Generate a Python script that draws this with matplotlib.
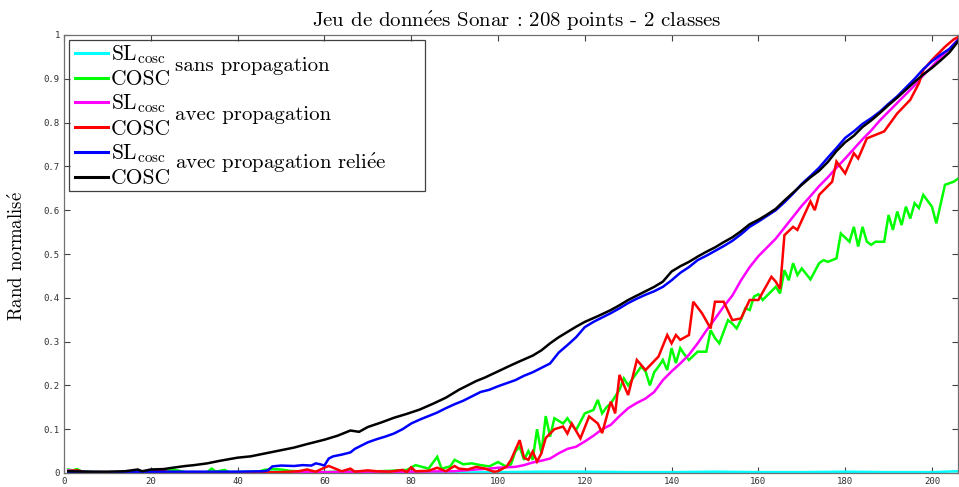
import matplotlib
matplotlib.use("Agg")
import matplotlib.pyplot as plt
from matplotlib.patches import Rectangle

plt.rcParams["mathtext.fontset"] = "cm"
SERIF = ["cmr10", "DejaVu Serif"]
E_ACUTE = r"$\acute{\mathrm{e}}$"

# --- data -------------------------------------------------------------
# SL_cosc sans propagation (cyan)
cyan_x = [1, 10, 20, 30, 40, 50, 60, 70, 80, 90, 100, 110, 120, 130, 140,
          150, 160, 170, 180, 190, 200, 206]
cyan_y = [0.003, 0.001, 0.002, 0.001, 0.002, 0.003, 0.001, 0.002, 0.002, 0.001,
          0.002, 0.003, 0.003, 0.002, 0.002, 0.003, 0.002, 0.002, 0.003, 0.002,
          0.002, 0.004]

# COSC sans propagation (green)
green_x = [1, 2, 3, 4, 6, 10, 15, 20, 23, 25, 28, 33, 34, 35, 37, 38, 45, 46,
           48, 50, 52, 55, 60, 65, 70, 75, 79, 81, 84, 86, 87, 89, 90, 92, 94,
           96, 98, 100, 102, 103, 104, 105, 106, 107, 108, 109, 110, 111, 112,
           113, 115, 116, 117, 118, 120, 122, 123, 124, 125, 126, 128, 129, 130,
           131, 133, 134, 135, 136, 137, 138, 139, 140, 141, 142, 143, 144, 146,
           148, 149, 150, 151, 153, 154, 155, 156, 157, 158, 159, 160, 161, 162,
           164, 165, 166, 167, 168, 169, 170, 172, 174, 175, 176, 178, 179, 181,
           182, 183, 184, 185, 186, 187, 189, 190, 191, 192, 193, 194, 195, 196,
           197, 198, 200, 201, 203, 205, 206]
green_y = [0.008, 0.006, 0.009, 0.004, 0.002, 0.001, 0.002, 0.003, 0.006, 0.008,
           0.002, 0.002, 0.010, 0.003, 0.007, 0.002, 0.003, 0.007, 0.009, 0.008,
           0.005, 0.003, 0.002, 0.004, 0.003, 0.005, 0.007, 0.018, 0.010, 0.037,
           0.010, 0.015, 0.030, 0.020, 0.022, 0.018, 0.015, 0.025, 0.014, 0.020,
           0.049, 0.060, 0.030, 0.050, 0.030, 0.100, 0.045, 0.130, 0.083, 0.125,
           0.113, 0.125, 0.110, 0.098, 0.136, 0.144, 0.167, 0.136, 0.150, 0.159,
           0.190, 0.216, 0.200, 0.215, 0.243, 0.232, 0.200, 0.230, 0.243, 0.258,
           0.235, 0.285, 0.251, 0.285, 0.270, 0.258, 0.277, 0.277, 0.326, 0.308,
           0.296, 0.349, 0.341, 0.330, 0.350, 0.376, 0.372, 0.403, 0.408, 0.395,
           0.405, 0.425, 0.410, 0.463, 0.440, 0.479, 0.452, 0.467, 0.442, 0.479,
           0.486, 0.482, 0.490, 0.547, 0.528, 0.562, 0.517, 0.562, 0.528, 0.521,
           0.528, 0.528, 0.589, 0.555, 0.597, 0.566, 0.608, 0.581, 0.616, 0.605,
           0.635, 0.608, 0.570, 0.658, 0.665, 0.672]

# SL_cosc avec propagation (magenta)
magenta_x = [1, 3, 5, 10, 20, 40, 60, 70, 80, 90, 95, 98, 100, 102, 104, 106,
             108, 110, 112, 114, 116, 118, 120, 122, 124, 126, 128, 130, 132,
             134, 136, 138, 140, 142, 144, 146, 148, 150, 152, 154, 156, 158,
             160, 162, 164, 166, 168, 170, 172, 174, 176, 178, 180, 182, 184,
             186, 188, 190, 192, 194, 196, 198, 200, 202, 204, 206]
magenta_y = [0.006, 0.004, 0.002, 0.001, 0.001, 0.001, 0.002, 0.003, 0.003,
             0.004, 0.008, 0.010, 0.012, 0.013, 0.014, 0.018, 0.024, 0.028,
             0.033, 0.045, 0.055, 0.060, 0.072, 0.085, 0.100, 0.110, 0.130,
             0.148, 0.160, 0.170, 0.185, 0.212, 0.232, 0.250, 0.270, 0.296,
             0.325, 0.352, 0.380, 0.405, 0.440, 0.470, 0.495, 0.515, 0.535,
             0.560, 0.585, 0.610, 0.632, 0.655, 0.675, 0.697, 0.718, 0.740,
             0.762, 0.782, 0.805, 0.825, 0.845, 0.865, 0.885, 0.908, 0.928,
             0.950, 0.968, 0.990]

# COSC avec propagation (red)
red_x = [1, 3, 5, 10, 20, 22, 24, 30, 40, 50, 54, 56, 58, 60, 61, 63, 64, 66,
         67, 70, 72, 75, 78, 79, 80, 81, 84, 86, 88, 90, 91, 93, 95, 97, 99,
         100, 102, 103, 105, 106, 107, 108, 109, 110, 111, 113, 115, 116, 117,
         119, 121, 123, 124, 126, 127, 128, 130, 132, 134, 137, 139, 140, 141,
         142, 144, 145, 147, 149, 150, 152, 154, 156, 158, 160, 163, 164, 165,
         166, 168, 169, 172, 173, 174, 177, 178, 180, 182, 183, 185, 189, 192,
         195, 197, 198, 200, 203, 205, 206]
red_y = [0.004, 0.006, 0.002, 0.001, 0.002, 0.006, 0.002, 0.001, 0.001, 0.002,
         0.004, 0.008, 0.003, 0.012, 0.016, 0.008, 0.004, 0.010, 0.003, 0.006,
         0.004, 0.003, 0.007, 0.002, 0.013, 0.004, 0.005, 0.012, 0.004, 0.016,
         0.010, 0.008, 0.014, 0.010, 0.003, 0.004, 0.015, 0.030, 0.075, 0.035,
         0.030, 0.049, 0.026, 0.045, 0.080, 0.100, 0.106, 0.090, 0.113, 0.079,
         0.129, 0.113, 0.091, 0.163, 0.136, 0.224, 0.178, 0.258, 0.235, 0.266,
         0.315, 0.296, 0.315, 0.304, 0.315, 0.391, 0.365, 0.330, 0.391, 0.391,
         0.349, 0.353, 0.395, 0.395, 0.448, 0.437, 0.420, 0.543, 0.562, 0.555,
         0.620, 0.600, 0.635, 0.665, 0.711, 0.684, 0.730, 0.718, 0.764, 0.780,
         0.821, 0.852, 0.890, 0.920, 0.943, 0.973, 0.990, 0.995]

# SL_cosc avec propagation reliée (blue)
blue_x = [1, 10, 20, 30, 40, 46, 47, 48, 50, 53, 55, 57, 58, 59, 60, 61, 62,
          64, 66, 67, 68, 70, 72, 74, 76, 78, 80, 82, 84, 86, 88, 90, 92, 94,
          96, 98, 100, 102, 104, 106, 108, 110, 112, 114, 116, 118, 120, 122,
          124, 126, 128, 130, 132, 134, 136, 138, 140, 142, 144, 146, 148, 150,
          152, 154, 156, 158, 160, 162, 164, 166, 168, 170, 172, 174, 176, 178,
          180, 182, 184, 186, 188, 190, 192, 194, 196, 198, 200, 202, 204, 206]
blue_y = [0.003, 0.002, 0.003, 0.003, 0.003, 0.004, 0.006, 0.015, 0.017, 0.016,
          0.018, 0.017, 0.022, 0.020, 0.017, 0.033, 0.038, 0.042, 0.047, 0.055,
          0.060, 0.070, 0.077, 0.083, 0.090, 0.100, 0.113, 0.122, 0.130, 0.138,
          0.148, 0.157, 0.165, 0.175, 0.185, 0.190, 0.198, 0.205, 0.212, 0.222,
          0.230, 0.240, 0.250, 0.275, 0.292, 0.310, 0.333, 0.345, 0.355, 0.365,
          0.376, 0.388, 0.398, 0.407, 0.415, 0.425, 0.440, 0.457, 0.470, 0.486,
          0.496, 0.507, 0.518, 0.530, 0.545, 0.562, 0.574, 0.587, 0.600, 0.618,
          0.638, 0.660, 0.678, 0.697, 0.720, 0.742, 0.765, 0.780, 0.797, 0.810,
          0.825, 0.843, 0.860, 0.880, 0.900, 0.922, 0.940, 0.955, 0.968, 0.988]

# COSC avec propagation reliée (black)
black_x = [1, 5, 10, 14, 17, 18, 20, 23, 25, 28, 30, 33, 36, 40, 43, 46, 50,
           53, 56, 60, 63, 66, 68, 70, 73, 76, 79, 82, 85, 88, 91, 93, 95, 97,
           100, 103, 105, 108, 110, 112, 114, 116, 118, 120, 123, 126, 128, 130,
           132, 134, 136, 138, 140, 142, 144, 146, 148, 150, 152, 154, 156, 158,
           160, 162, 164, 166, 168, 170, 172, 174, 176, 178, 180, 182, 184, 186,
           188, 190, 192, 194, 196, 198, 200, 202, 204, 206]
black_y = [0.004, 0.003, 0.003, 0.004, 0.008, 0.004, 0.008, 0.009, 0.012, 0.016,
           0.018, 0.022, 0.028, 0.035, 0.038, 0.044, 0.052, 0.058, 0.066, 0.076,
           0.085, 0.097, 0.094, 0.105, 0.115, 0.126, 0.135, 0.145, 0.158, 0.172,
           0.190, 0.200, 0.210, 0.218, 0.232, 0.246, 0.255, 0.268, 0.280, 0.296,
           0.310, 0.322, 0.334, 0.345, 0.358, 0.372, 0.383, 0.395, 0.405, 0.415,
           0.425, 0.437, 0.460, 0.472, 0.482, 0.494, 0.505, 0.515, 0.527, 0.538,
           0.552, 0.568, 0.578, 0.590, 0.603, 0.622, 0.640, 0.658, 0.675, 0.690,
           0.710, 0.735, 0.755, 0.770, 0.790, 0.805, 0.822, 0.840, 0.857, 0.875,
           0.893, 0.910, 0.925, 0.942, 0.960, 0.985]

x_ticks = [0, 20, 40, 60, 80, 100, 120, 140, 160, 180, 200]
y_ticks = [0, 0.1, 0.2, 0.3, 0.4, 0.5, 0.6, 0.7, 0.8, 0.9, 1]
y_tick_labels = ["0", "0.1", "0.2", "0.3", "0.4", "0.5", "0.6", "0.7", "0.8",
                 "0.9", "1"]

sl_label = r"SL$_{\mathrm{cosc}}$"
cosc_label = "COSC"
groups = ["sans propagation", "avec propagation",
          "avec propagation reli" + E_ACUTE + "e"]
title = "Jeu de donn" + E_ACUTE + "es Sonar : 208 points - 2 classes"
ylabel = "Rand normalis" + E_ACUTE

# --- figure -----------------------------------------------------------
W, H = 959, 487
fig = plt.figure(figsize=(W / 100, H / 100), dpi=100)
ax = fig.add_axes([64 / W, (H - 473) / H, (958 - 64) / W, (473 - 35) / H])

lw = 1.8
series = [
    (cyan_x, cyan_y, "#00ffff", sl_label),
    (green_x, green_y, "#00ff00", cosc_label),
    (magenta_x, magenta_y, "#ff00ff", sl_label),
    (red_x, red_y, "#ff0000", cosc_label),
    (blue_x, blue_y, "#0000ff", sl_label),
    (black_x, black_y, "#000000", cosc_label),
]
handles = []
for xs, ys, col, lab in series:
    (ln,) = ax.plot(xs, ys, color=col, lw=lw, label=lab,
                    solid_joinstyle="miter")
    handles.append(ln)

ax.set_xlim(0, 206)
ax.set_ylim(0, 1)
ax.set_xticks(x_ticks)
ax.set_xticklabels([str(t) for t in x_ticks])
ax.set_yticks(y_ticks)
ax.set_yticklabels(y_tick_labels)

spine_col = "#707070"
for s in ax.spines.values():
    s.set_color(spine_col)
    s.set_linewidth(0.9)
ax.tick_params(direction="in", length=4.5, width=0.8, color="#404040",
               top=True, right=True, labelsize=6.5, labelcolor="#303030",
               pad=3)
for lab in ax.get_xticklabels() + ax.get_yticklabels():
    lab.set_family("DejaVu Sans Mono")

# legend: line samples + series names, framed box with group captions
fs_leg = 15.5
leg = ax.legend(handles, [h.get_label() for h in handles],
                loc="upper left", bbox_to_anchor=(0.0123, 0.981),
                borderaxespad=0, borderpad=0, frameon=False,
                handlelength=1.55, handletextpad=0.12, labelspacing=0.17,
                prop={"family": SERIF, "size": fs_leg})
for ln in leg.get_lines():
    ln.set_linewidth(2.2)

x0, x1 = (69 - 64) / 894, (425 - 64) / 894
y0, y1 = (473 - 191) / 438, (473 - 40) / 438
ax.add_patch(Rectangle((x0, y0), x1 - x0, y1 - y0, transform=ax.transAxes,
                       fill=False, edgecolor="#404040", lw=0.9, zorder=5))
gx = (175 - 64) / 894
for txt, base_px in zip(groups, [71, 120, 169]):
    ax.text(gx, (473 - base_px) / 438, txt, transform=ax.transAxes,
            family=SERIF, fontsize=15, va="baseline", ha="left")

fig.text(517 / W, 1 - 27 / H, title, family=SERIF, fontsize=15,
         ha="center", va="baseline")
fig.text(17 / W, 1 - 256 / H, ylabel, family=SERIF, fontsize=13.5,
         rotation=90, ha="center", va="center")

fig.savefig("out.png", dpi=100)
